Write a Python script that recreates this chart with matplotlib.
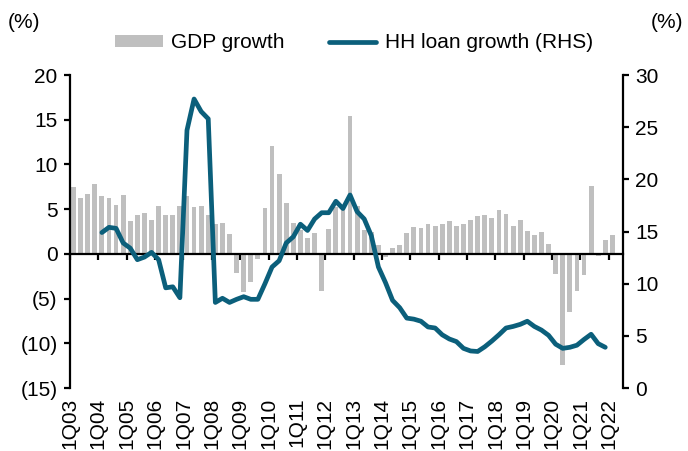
import numpy as np
import matplotlib
matplotlib.use("Agg")
import matplotlib.pyplot as plt
import matplotlib.ticker as mticker

plt.rcParams['font.family'] = ['Liberation Sans', 'DejaVu Sans']
plt.rcParams['font.size'] = 15

# quarterly data, 1Q03 .. 2Q22 (78 quarters)
tick_labels = ['1Q03', '1Q04', '1Q05', '1Q06', '1Q07', '1Q08', '1Q09', '1Q10', '1Q11', '1Q12',
               '1Q13', '1Q14', '1Q15', '1Q16', '1Q17', '1Q18', '1Q19', '1Q20', '1Q21', '1Q22']

gdp_growth = [
    7.5, 6.3, 6.7, 7.8,      # 2003
    6.5, 6.3, 5.5, 6.6,      # 2004
    3.7, 4.3, 4.6, 3.8,      # 2005
    5.4, 4.4, 4.4, 5.3,      # 2006
    6.5, 5.2, 5.4, 4.4,      # 2007
    3.3, 3.5, 2.2, -2.1,     # 2008
    -4.3, -3.1, -0.6, 5.1,   # 2009
    12.1, 8.9, 5.7, 3.4,     # 2010
    2.7, 1.8, 2.3, -4.1,     # 2011
    2.8, 5.2, 5.2, 15.4,     # 2012
    5.3, 2.65, 2.4, 1.0,     # 2013
    -0.4, 0.7, 1.0, 2.3,     # 2014
    3.0, 2.85, 3.3, 3.1,     # 2015
    3.3, 3.7, 3.1, 3.3,      # 2016
    3.75, 4.2, 4.4, 4.0,     # 2017
    4.95, 4.5, 3.15, 3.8,    # 2018
    2.55, 2.15, 2.45, 1.1,   # 2019
    -2.3, -12.4, -6.5, -4.2, # 2020
    -2.4, 7.6, -0.2, 1.6,    # 2021
    2.1, np.nan,             # 2022
]

hh_loan_growth = [
    np.nan, np.nan, np.nan, np.nan,  # 2003
    14.9, 15.4, 15.3, 13.9,  # 2004
    13.4, 12.3, 12.55, 13.0, # 2005
    12.3, 9.6, 9.7, 8.65,    # 2006
    24.7, 27.7, 26.5, 25.8,  # 2007
    8.2, 8.6, 8.2, 8.5,      # 2008
    8.75, 8.5, 8.5, 10.0,    # 2009
    11.6, 12.2, 13.9, 14.5,  # 2010
    15.7, 15.1, 16.2, 16.8,  # 2011
    16.8, 17.9, 17.2, 18.5,  # 2012
    16.9, 16.2, 14.6, 11.6,  # 2013
    10.1, 8.4, 7.7, 6.7,     # 2014
    6.6, 6.4, 5.85, 5.75,    # 2015
    5.1, 4.7, 4.45, 3.8,     # 2016
    3.55, 3.5, 3.95, 4.5,    # 2017
    5.1, 5.75, 5.9, 6.1,     # 2018
    6.4, 5.9, 5.55, 5.05,    # 2019
    4.2, 3.8, 3.9, 4.1,      # 2020
    4.65, 5.15, 4.25, 3.9,   # 2021
    np.nan, np.nan,          # 2022
]

bar_color = '#BFBFBF'
line_color = '#0B5F7B'

n = len(gdp_growth)
x = np.arange(n)

fig = plt.figure(figsize=(6.88, 4.51), dpi=100)
ax = fig.add_axes([70 / 688, 1 - 388 / 451, 553 / 688, 313 / 451])

bars = ax.bar(x, gdp_growth, width=0.68, color=bar_color, label='GDP growth', zorder=2)
ax.set_xlim(-0.5, n - 0.5)
ax.set_ylim(-15, 20)
ax.yaxis.set_major_locator(mticker.MultipleLocator(5))
ax.yaxis.set_major_formatter(mticker.FuncFormatter(
    lambda v, pos: f"({abs(v):g})" if v < 0 else f"{v:g}"))

# x axis sits on the zero line, labels at the bottom
ax.spines['bottom'].set_position(('data', 0))
ax.spines['top'].set_visible(False)
ax.spines['right'].set_visible(False)
for s in ['left', 'bottom']:
    ax.spines[s].set_linewidth(1.6)
xticks = np.arange(-0.5, n - 2, 4)
ax.set_xticks(xticks)
ax.tick_params(axis='x', labelbottom=False, direction='out', length=4, width=1.6)
ax.tick_params(axis='y', direction='out', length=4, width=1.6, pad=5)

sec = ax.secondary_xaxis(0.0)
sec.set_xticks(xticks, labels=tick_labels, rotation=90)
sec.tick_params(length=0, pad=7)
sec.spines['bottom'].set_visible(False)

ax2 = ax.twinx()
line, = ax2.plot(x, hh_loan_growth, color=line_color, lw=3.4,
                 solid_capstyle='round', solid_joinstyle='round',
                 label='HH loan growth (RHS)')
ax2.set_ylim(0, 30)
ax2.yaxis.set_major_locator(mticker.MultipleLocator(5))
for s in ['top', 'bottom', 'left']:
    ax2.spines[s].set_visible(False)
ax2.spines['right'].set_linewidth(1.6)
ax2.tick_params(axis='y', direction='out', length=4, width=1.6, pad=5)

fig.legend([bars, line], ['GDP growth', 'HH loan growth (RHS)'],
           loc='center', bbox_to_anchor=(354 / 688, 1 - 43 / 451), ncol=2,
           frameon=False, handlelength=2.3, handleheight=0.5,
           handletextpad=0.4, columnspacing=2.1)

fig.text(24 / 688, 1 - 23 / 451, '(%)', ha='center', va='center')
fig.text(667 / 688, 1 - 23 / 451, '(%)', ha='center', va='center')

fig.savefig('out.png', dpi=100)
